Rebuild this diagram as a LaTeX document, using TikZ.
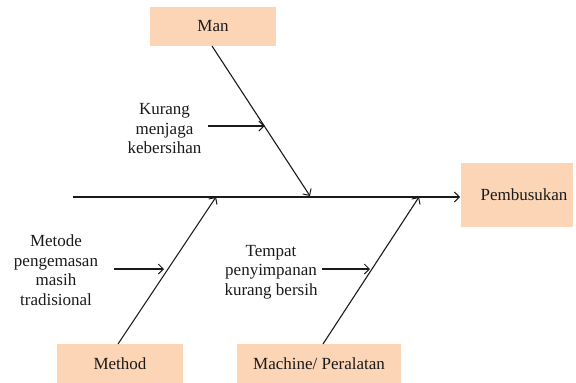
\documentclass[tikz,border=0pt]{standalone}
\usepackage{fontspec}
\setmainfont{Liberation Serif}
\usetikzlibrary{arrows.meta}
\definecolor{peach}{HTML}{FBD5B5}
\definecolor{ink}{HTML}{1A1A1A}
\begin{document}
\begin{tikzpicture}[x=1pt,y=-1pt,
  catbox/.style={fill=peach,draw=none,inner sep=0pt,text=ink,font=\fontsize{17}{19.5}\selectfont},
  lbl/.style={align=center,inner sep=0pt,text=ink,font=\fontsize{17}{19.5}\selectfont},
  bone/.style={draw=ink,line width=1.1pt,-{Straight Barb[length=5pt,width=10pt,line width=1pt]}}]
\useasboundingbox (0,0) rectangle (576,383);
% boxes
\node[catbox,minimum width=126pt,minimum height=39pt] (man) at (213,26.5) {Man};
\node[catbox,minimum width=126pt,minimum height=39pt] (method) at (120,363.5) {Method};
\node[catbox,minimum width=164pt,minimum height=39pt] (machine) at (319,363.5) {Machine/ Peralatan};
\node[catbox,minimum width=112pt,minimum height=64pt] (pembox) at (517,195) {};
\node[lbl] (pemb) at (524,195) {Pembusukan};
% spine
\coordinate (s0) at (73,197);
\coordinate (s1) at (460,197);
\draw[bone] (s0) -- (s1);
% bones
\coordinate (manend) at (310,196);
\coordinate (methodend) at (216,197);
\coordinate (machineend) at (419,197);
\coordinate (machinestart) at (323,344);
\coordinate (manstart) at (212,46);
\coordinate (methodstart) at (118,344);
\draw[bone] (manstart) -- (manend);
\draw[bone] (methodstart) -- (methodend);
\draw[bone] (machinestart) -- (machineend);
% causes
\node[lbl] (kurang) at (164.5,129) {Kurang\\menjaga\\kebersihan};
\node[lbl] (metode) at (56,270) {Metode\\pengemasan\\masih\\tradisional};
\node[lbl] (tempat) at (271,272) {Tempat\\penyimpanan\\kurang bersih};
\coordinate (k0) at (208,126);
\coordinate (k1) at (264.5,126);
\coordinate (m0) at (114,269);
\coordinate (m1) at (164,269);
\coordinate (t0) at (322,269);
\coordinate (t1) at (370,269);
\draw[bone] (k0) -- (k1);
\draw[bone] (m0) -- (m1);
\draw[bone] (t0) -- (t1);
\end{tikzpicture}
\end{document}
